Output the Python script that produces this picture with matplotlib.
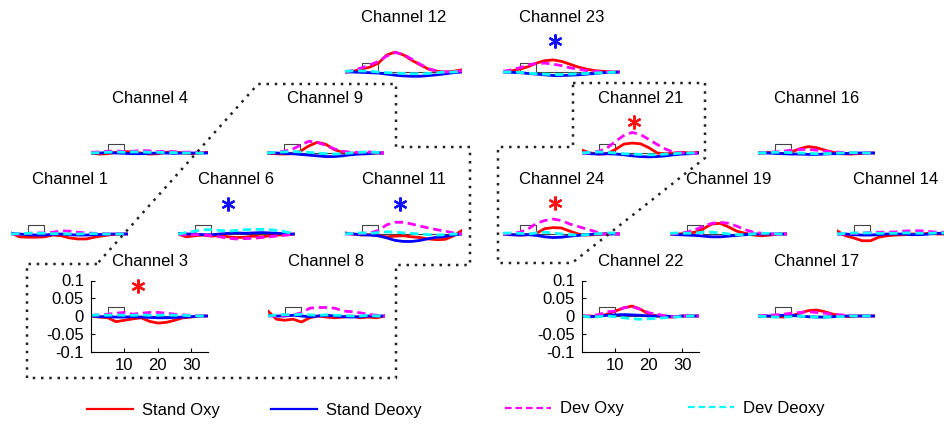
import matplotlib
matplotlib.use('Agg')
import matplotlib.pyplot as plt

plt.rcParams['font.family'] = ['Liberation Sans', 'DejaVu Sans']

W, H = 944, 425

# time axis (s)
time_s = [0, 2.5, 5, 7.5, 10, 12.5, 15, 17.5, 20, 22.5, 25, 27.5, 30, 32.5, 35]

# values in 1e-3 units; so = Stand Oxy, sd = Stand Deoxy, do = Dev Oxy, dd = Dev Deoxy
so_12 = [0, 2, 8, 14, 25, 48, 56, 48, 33, 20, 8, 2, 0, 2, 6]
sd_12 = [0, 0, -1, -2, -3, -6, -9, -11, -12, -12, -10, -8, -5, -2, 0]
do_12 = [0, 5, 12, 20, 30, 45, 55, 50, 36, 22, 9, 3, 0, 1, 3]
dd_12 = [2, 3, 3, 2, 0, -2, -3, -4, -5, -5, -4, -2, 0, 0, 1]

so_23 = [0, 3, 8, 15, 25, 32, 34, 30, 22, 14, 8, 4, 2, 0, 0]
sd_23 = [0, -1, -2, -4, -6, -8, -10, -10, -9, -8, -6, -4, -2, -1, 0]
do_23 = [2, 6, 12, 20, 24, 25, 22, 18, 12, 8, 4, 2, 0, 0, 0]
dd_23 = [0, 0, -1, -3, -5, -6, -7, -7, -6, -5, -4, -3, -2, -1, 0]

so_4 = [0, -3, -2, 2, 4, 3, 0, -3, -2, 2, 3, 0, -2, 0, 2]
sd_4 = [0, 0, 1, 0, -1, -2, -2, -1, 0, 0, -1, 0, 0, 0, 0]
do_4 = [2, 3, 5, 6, 4, 5, 7, 6, 4, 5, 3, 2, 3, 2, 0]
dd_4 = [0, 1, 2, 3, 2, 3, 3, 2, 2, 1, 1, 0, 0, 0, 0]

so_9 = [0, -2, -3, -2, 5, 20, 30, 25, 10, 2, 0, -2, -2, 0, 0]
sd_9 = [0, 0, -1, -2, -4, -6, -8, -10, -10, -8, -5, -3, -2, 0, 0]
do_9 = [0, 2, 5, 10, 22, 33, 30, 22, 12, 5, 2, 2, 3, 2, 0]
dd_9 = [0, 2, 3, 4, 3, 2, 0, -2, -3, -2, 0, 2, 3, 2, 0]

so_21 = [8, 0, -3, -2, 10, 25, 28, 26, 15, 0, -2, 0, 2, 0, 2]
sd_21 = [0, -2, -3, -2, -3, -5, -8, -10, -11, -10, -8, -5, -3, -2, 0]
do_21 = [0, 0, 5, 14, 33, 49, 58, 52, 38, 24, 11, 2, 0, 0, -2]
dd_21 = [0, 2, 3, 2, 0, -2, -3, -4, -5, -5, -3, -2, 0, 0, 0]

so_16 = [0, 2, 0, -2, 3, 12, 18, 15, 8, 2, -2, -3, -2, 0, 0]
sd_16 = [0, 0, -1, -2, -3, -3, -4, -4, -3, -2, -2, -1, 0, 0, 0]
do_16 = [0, 2, 3, 5, 8, 10, 10, 8, 5, 3, 2, 1, 0, 0, 0]
dd_16 = [0, 1, 2, 2, 1, 0, -1, -2, -2, -1, 0, 1, 1, 0, 0]

so_1 = [3, -8, -9, -9, -8, -3, -5, -11, -14, -14, -9, -5, -2, 0, 0]
sd_1 = [2, 0, -2, -3, -3, -1, 0, -2, -3, -3, -2, -1, 0, 0, 0]
do_1 = [0, 0, 2, 3, 3, 5, 9, 8, 5, 3, 2, 1, 0, 0, 0]
dd_1 = [0, 1, 2, 2, 2, 1, 1, 0, 0, 1, 1, 0, 0, 0, 0]

so_6 = [0, -8, -5, -3, -6, -4, -8, -10, -9, -6, -8, -5, -3, -2, 0]
sd_6 = [2, 0, 0, -2, -2, 0, 2, 3, 2, 3, 4, 3, 2, 0, 0]
do_6 = [0, -3, -2, -2, -5, -8, -12, -14, -13, -12, -10, -8, -5, -3, 0]
dd_6 = [0, 4, 8, 12, 12, 10, 8, 10, 12, 13, 13, 12, 10, 5, 2]

so_11 = [3, 0, -3, -2, -5, -8, -6, -5, -8, -10, -14, -16, -15, -5, 10]
sd_11 = [2, 0, -2, -3, -5, -11, -18, -21, -21, -18, -13, -9, -7, -3, 0]
do_11 = [0, 0, 2, 3, 10, 26, 33, 33, 28, 22, 17, 12, 8, 3, 0]
dd_11 = [0, 2, 3, 2, 4, 6, 5, 3, 2, 0, -2, -3, -2, 0, 0]

so_24 = [0, -2, -3, -2, 2, 15, 18, 17, 8, 0, -3, -2, 0, 2, 0]
sd_24 = [0, -2, -3, -2, -4, -8, -10, -9, -6, -4, -2, 0, 0, 0, 0]
do_24 = [0, 2, 5, 14, 30, 38, 42, 38, 28, 21, 14, 7, 0, 0, 0]
dd_24 = [2, 3, 2, 0, 3, 5, 3, 0, -2, -3, -2, 0, 2, 3, 0]

so_19 = [0, 0, 2, 5, 15, 28, 30, 20, 8, 2, -3, -5, -3, 0, 0]
sd_19 = [0, -2, -3, -4, -6, -8, -8, -6, -4, -2, 0, 0, 0, 0, 0]
do_19 = [0, 2, 5, 12, 22, 30, 33, 30, 22, 12, 5, 2, 0, 0, 0]
dd_19 = [2, 3, 2, 3, 5, 5, 3, 0, -2, -2, 0, 2, 2, 0, 0]

so_14 = [9, -5, -11, -19, -19, -9, -5, -3, -2, 0, 0, 2, 0, 0, 0]
sd_14 = [0, 0, -2, -3, -3, -2, 0, 0, 0, -2, -2, 0, 2, 2, 0]
do_14 = [0, 0, 2, 3, 4, 5, 5, 6, 8, 9, 9, 7, 5, 5, 3]
dd_14 = [0, 2, 3, 3, 3, 2, 2, 2, 3, 3, 2, 2, 3, 3, 2]

so_3 = [0, -3, -5, -16, -12, -8, -5, -15, -20, -18, -12, -5, -3, 0, 0]
sd_3 = [0, -2, -2, -3, -3, -2, -3, -4, -5, -5, -4, -3, -2, 0, 0]
do_3 = [2, 3, 5, 8, 10, 5, 8, 10, 10, 8, 5, 3, 2, 0, 0]
dd_3 = [2, 3, 2, 3, 2, 2, 3, 2, 2, 3, 2, 2, 1, 0, 0]

so_8 = [14, -9, -12, -9, -17, -5, 0, -3, -5, -3, 0, -5, -3, -5, 0]
sd_8 = [2, 0, 0, 2, 0, -2, 0, 2, 0, -2, -3, -2, 0, 0, 0]
do_8 = [0, 0, 2, 3, 9, 22, 24, 24, 22, 14, 12, 9, 5, 2, 0]
dd_8 = [0, 3, 4, 3, 5, 3, 2, 3, 2, 2, 0, 0, 2, 0, 0]

so_22 = [0, 0, -2, 5, 14, 23, 28, 19, 5, 0, -3, -3, 0, 0, 0]
sd_22 = [0, -2, 0, 2, 3, 4, 3, 2, 0, 0, 0, -2, 0, 0, 0]
do_22 = [0, 0, 4, 12, 14, 23, 26, 19, 9, 5, 0, -2, 0, 0, 0]
dd_22 = [0, -3, -2, 0, -2, -5, -8, -9, -8, -6, -5, -3, -2, 0, 0]

so_17 = [0, 0, -2, -3, 0, 8, 15, 17, 12, 5, 0, -2, 0, 0, 0]
sd_17 = [0, 0, 0, 2, 2, 0, -2, -3, -3, -2, 0, 0, 0, 0, 0]
do_17 = [0, 2, 3, 5, 8, 10, 12, 10, 8, 5, 3, 2, 0, 0, 0]
dd_17 = [0, -2, -3, -3, -2, 0, -2, -3, -3, -2, -2, 0, 0, 0, 0]

channels = [12, 23, 4, 9, 21, 16, 1, 6, 11, 24, 19, 14, 3, 8, 22, 17]
series_labels = ['Stand Oxy', 'Stand Deoxy', 'Dev Oxy', 'Dev Deoxy']
scale = 1e-3

# stimulus marker
stim_x = [0, 5, 5, 10, 10, 35]
stim_y = [0, 0, 0.025, 0.025, 0, 0]

# significance asterisks
sig_channels = [3, 23, 21, 6, 11, 24]
sig_colors = ['#ff1010', '#1010ff', '#ff1010', '#1010ff', '#1010ff', '#ff1010']
sig_x = [14, 15.5, 15.5, 15, 16.5, 15.5]
sig_y = [0.085, 0.088, 0.087, 0.084, 0.085, 0.087]

axis_channels = [3, 22]
ytick_vals = [-0.1, -0.05, 0, 0.05, 0.1]
ytick_labels = ['-0.1', '-0.05', '0', '0.05', '0.1']
xtick_vals = [10, 20, 30]

data = {}
g = globals()
for ch in channels:
    data[ch] = [[v * scale for v in g[f'{p}_{ch}']] for p in ('so', 'sd', 'do', 'dd')]

# layout: (left px, zero-line y px)
pos = {12: (345, 72), 23: (503, 72),
       4: (91, 153), 9: (267, 153), 21: (582, 153), 16: (758, 153),
       1: (11, 234), 6: (178, 234), 11: (345, 234), 24: (503, 234), 19: (670, 234), 14: (837, 234),
       3: (91, 316), 8: (268, 316), 22: (582, 316), 17: (758, 316)}
PW, PH = 117, 71

colors = ['#ff0000', '#0000ff', '#ff00ff', '#00ffff']
styles = [dict(), dict(), dict(dashes=(3.0, 1.7)), dict(dashes=(3.0, 1.7))]

fig = plt.figure(figsize=(W / 100, H / 100), dpi=100)
handles = None
for ch in channels:
    L, Z = pos[ch]
    top = Z - PH / 2
    ax = fig.add_axes([L / W, 1 - (top + PH) / H, PW / W, PH / H])
    ax.patch.set_visible(False)
    ax.plot(stim_x, stim_y, color='#444444', lw=0.8)
    hs = []
    for vals, col, st, lab in zip(data[ch], colors, styles, series_labels):
        h, = ax.plot(time_s, vals, color=col, lw=2.0, label=lab, **st)
        hs.append(h)
    handles = hs
    ax.set_xlim(0, 35)
    ax.set_ylim(-0.1, 0.1)
    if ch in axis_channels:
        ax.spines['top'].set_visible(False)
        ax.spines['right'].set_visible(False)
        ax.spines['left'].set_linewidth(0.8)
        ax.spines['bottom'].set_linewidth(0.8)
        ax.set_yticks(ytick_vals)
        ax.set_yticklabels(ytick_labels)
        ax.set_xticks(xtick_vals)
        ax.set_xticklabels([str(v) for v in xtick_vals])
        ax.tick_params(direction='in', length=3, width=0.8, labelsize=12, pad=5)
    else:
        ax.axis('off')
    ax.text(0.5, 1 + 19.5 / PH, f'Channel {ch}', transform=ax.transAxes,
            ha='center', va='center', fontsize=12)
    if ch in sig_channels:
        i = sig_channels.index(ch)
        ax.plot([sig_x[i]], [sig_y[i]], marker=(6, 2, 0), ms=10, mew=1.6,
                color=sig_colors[i], linestyle='none', clip_on=False)

# legend entries
leg_pos = [(87, 410), (271, 410), (505, 409), (688, 408)]
for h, lab, (lx, ly) in zip(handles, series_labels, leg_pos):
    lg = fig.legend([h], [lab], loc='center left', bbox_to_anchor=(lx / W, 1 - ly / H),
                    frameon=False, handlelength=2.75, handletextpad=0.55,
                    borderpad=0, borderaxespad=0, fontsize=12)
    for ln in lg.get_lines():
        ln.set_linewidth(1.6)

# dotted zoom outlines
ov = fig.add_axes([0, 0, 1, 1])
ov.set_xlim(0, W)
ov.set_ylim(H, 0)
ov.axis('off')
left_poly_x = [97, 27, 27, 396, 396, 470, 470, 396, 396, 258, 97]
left_poly_y = [264, 264, 378, 378, 265, 265, 147, 147, 84, 84, 264]
right_poly_x = [573, 705, 705, 572, 498, 498, 573, 573]
right_poly_y = [83, 83, 158, 263, 263, 147, 147, 83]
ov.plot(left_poly_x, left_poly_y, color='#222222', lw=1.8, dashes=(1, 2.3))
ov.plot(right_poly_x, right_poly_y, color='#222222', lw=1.8, dashes=(1, 2.3))

fig.savefig('out.png', dpi=100)
